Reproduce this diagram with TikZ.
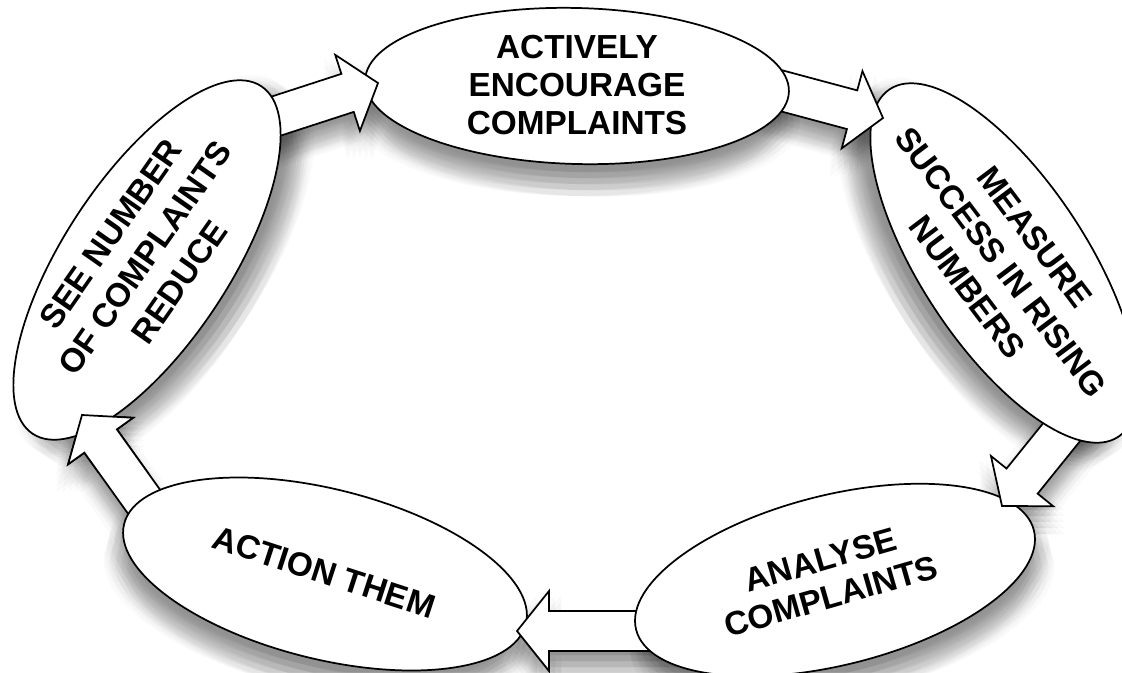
\documentclass[tikz,border=0pt]{standalone}
\usepackage{fontspec}
\setmainfont{Liberation Sans}
\usetikzlibrary{shapes.geometric}
\newcommand\ellshadow[5]{%
  \begin{scope}[shift={(#1,#2)}, rotate=#5]
    \foreach \i in {-12,-6,0,6,12}{\foreach \j in {-12,-6,0,6,12}{
      \fill[shd] (\i,\j+20) ellipse [x radius=#3, y radius=#4];}}
  \end{scope}}
\newcommand\arrshape[2]{% angle, length (drawn at current origin)
  (0,0) -- (-32,-40) -- (-32,-20) -- (-#2,-20) -- (-#2,20) -- (-32,20) -- (-32,40) -- cycle}
\newcommand\arrshadow[3]{% tip coordinate, angle, length
  \foreach \i in {-12,-6,0,6,12}{\foreach \j in {-12,-6,0,6,12}{
    \begin{scope}[shift={(#1)}, shift={(\i,\j+16)}, rotate=#2]
      \fill[shd] \arrshape{#2}{#3};
    \end{scope}}}}
\newcommand\blockarrow[3]{% tip coordinate, angle, length
  \begin{scope}[shift={(#1)}, rotate=#2]
    \path[barrow] \arrshape{#2}{#3};
  \end{scope}}
\begin{document}
\begin{tikzpicture}[x=0.75pt,y=-0.75pt,
  bub/.style={ellipse, draw=black, line width=1.3pt, fill=white, inner sep=0pt},
  btxt/.style={align=center, inner sep=0pt, text=black},
  barrow/.style={draw=black, line width=1.3pt, fill=white, line join=miter},
  shd/.style={fill=black, fill opacity=0.021}]
\useasboundingbox (0,0) rectangle (1122,672);
\clip (0,0) rectangle (1122,672);
\fill[white] (0,0) rectangle (1122,672);

% arrow tip coordinates
\coordinate (tipA) at (378,83);
\coordinate (tipB) at (883,118);
\coordinate (tipC) at (1002,506);
\coordinate (tipD) at (517,631);
\coordinate (tipE) at (82,415);

% shadows
\ellshadow{147}{260}{208}{83}{56.7}
\ellshadow{577}{86}{212}{78}{-1.5}
\ellshadow{1004}{263}{208}{83}{-56.7}
\ellshadow{835}{580}{205}{85}{14}
\ellshadow{325}{574}{207}{85}{-14}
\arrshadow{tipA}{18}{150}
\arrshadow{tipB}{-15}{160}
\arrshadow{tipC}{-128.9}{150}
\arrshadow{tipD}{180}{200}
\arrshadow{tipE}{125.6}{130}

% layered shapes: each arrow under its source, over its target
\blockarrow{tipE}{125.6}{130}
\node[bub, minimum width=310.5pt, minimum height=127.5pt, rotate=-14] (BL) at (325,574) {};
\blockarrow{tipD}{180}{200}
\node[bub, minimum width=307.5pt, minimum height=127.5pt, rotate=14] (BR) at (835,580) {};
\blockarrow{tipC}{-128.9}{150}
\node[bub, minimum width=312pt, minimum height=124.5pt, rotate=-56.7] (R) at (1004,263) {};
\blockarrow{tipB}{-15}{160}
\node[bub, minimum width=318pt, minimum height=117pt, rotate=-1.5] (T) at (577,86) {};
\blockarrow{tipA}{18}{150}
\node[bub, minimum width=312pt, minimum height=124.5pt, rotate=56.7] (L) at (147,260) {};
\begin{scope}
  \clip (0,380) rectangle (175,472);
  \blockarrow{tipE}{125.6}{130}
\end{scope}

% texts
\node[btxt, font=\bfseries\fontsize{25}{28.2}\selectfont] (tT) at (577,85)
  {ACTIVELY\\ENCOURAGE\\COMPLAINTS};
\node[btxt, rotate=-53, font=\bfseries\fontsize{25}{31.5}\selectfont] (tR) at (1001,262)
  {MEASURE\\SUCCESS IN RISING\\NUMBERS};
\node[btxt, rotate=16, font=\bfseries\fontsize{25}{28.5}\selectfont] (tBR) at (826,578)
  {ANALYSE\\COMPLAINTS};
\node[btxt, rotate=-18, font=\bfseries\fontsize{25}{28.5}\selectfont] (tBL) at (324,572)
  {ACTION THEM};
\node[btxt, rotate=55, font=\bfseries\fontsize{25}{31.5}\selectfont] (tL) at (145,258)
  {SEE NUMBER\\OF COMPLAINTS\\REDUCE};
\end{tikzpicture}
\end{document}
